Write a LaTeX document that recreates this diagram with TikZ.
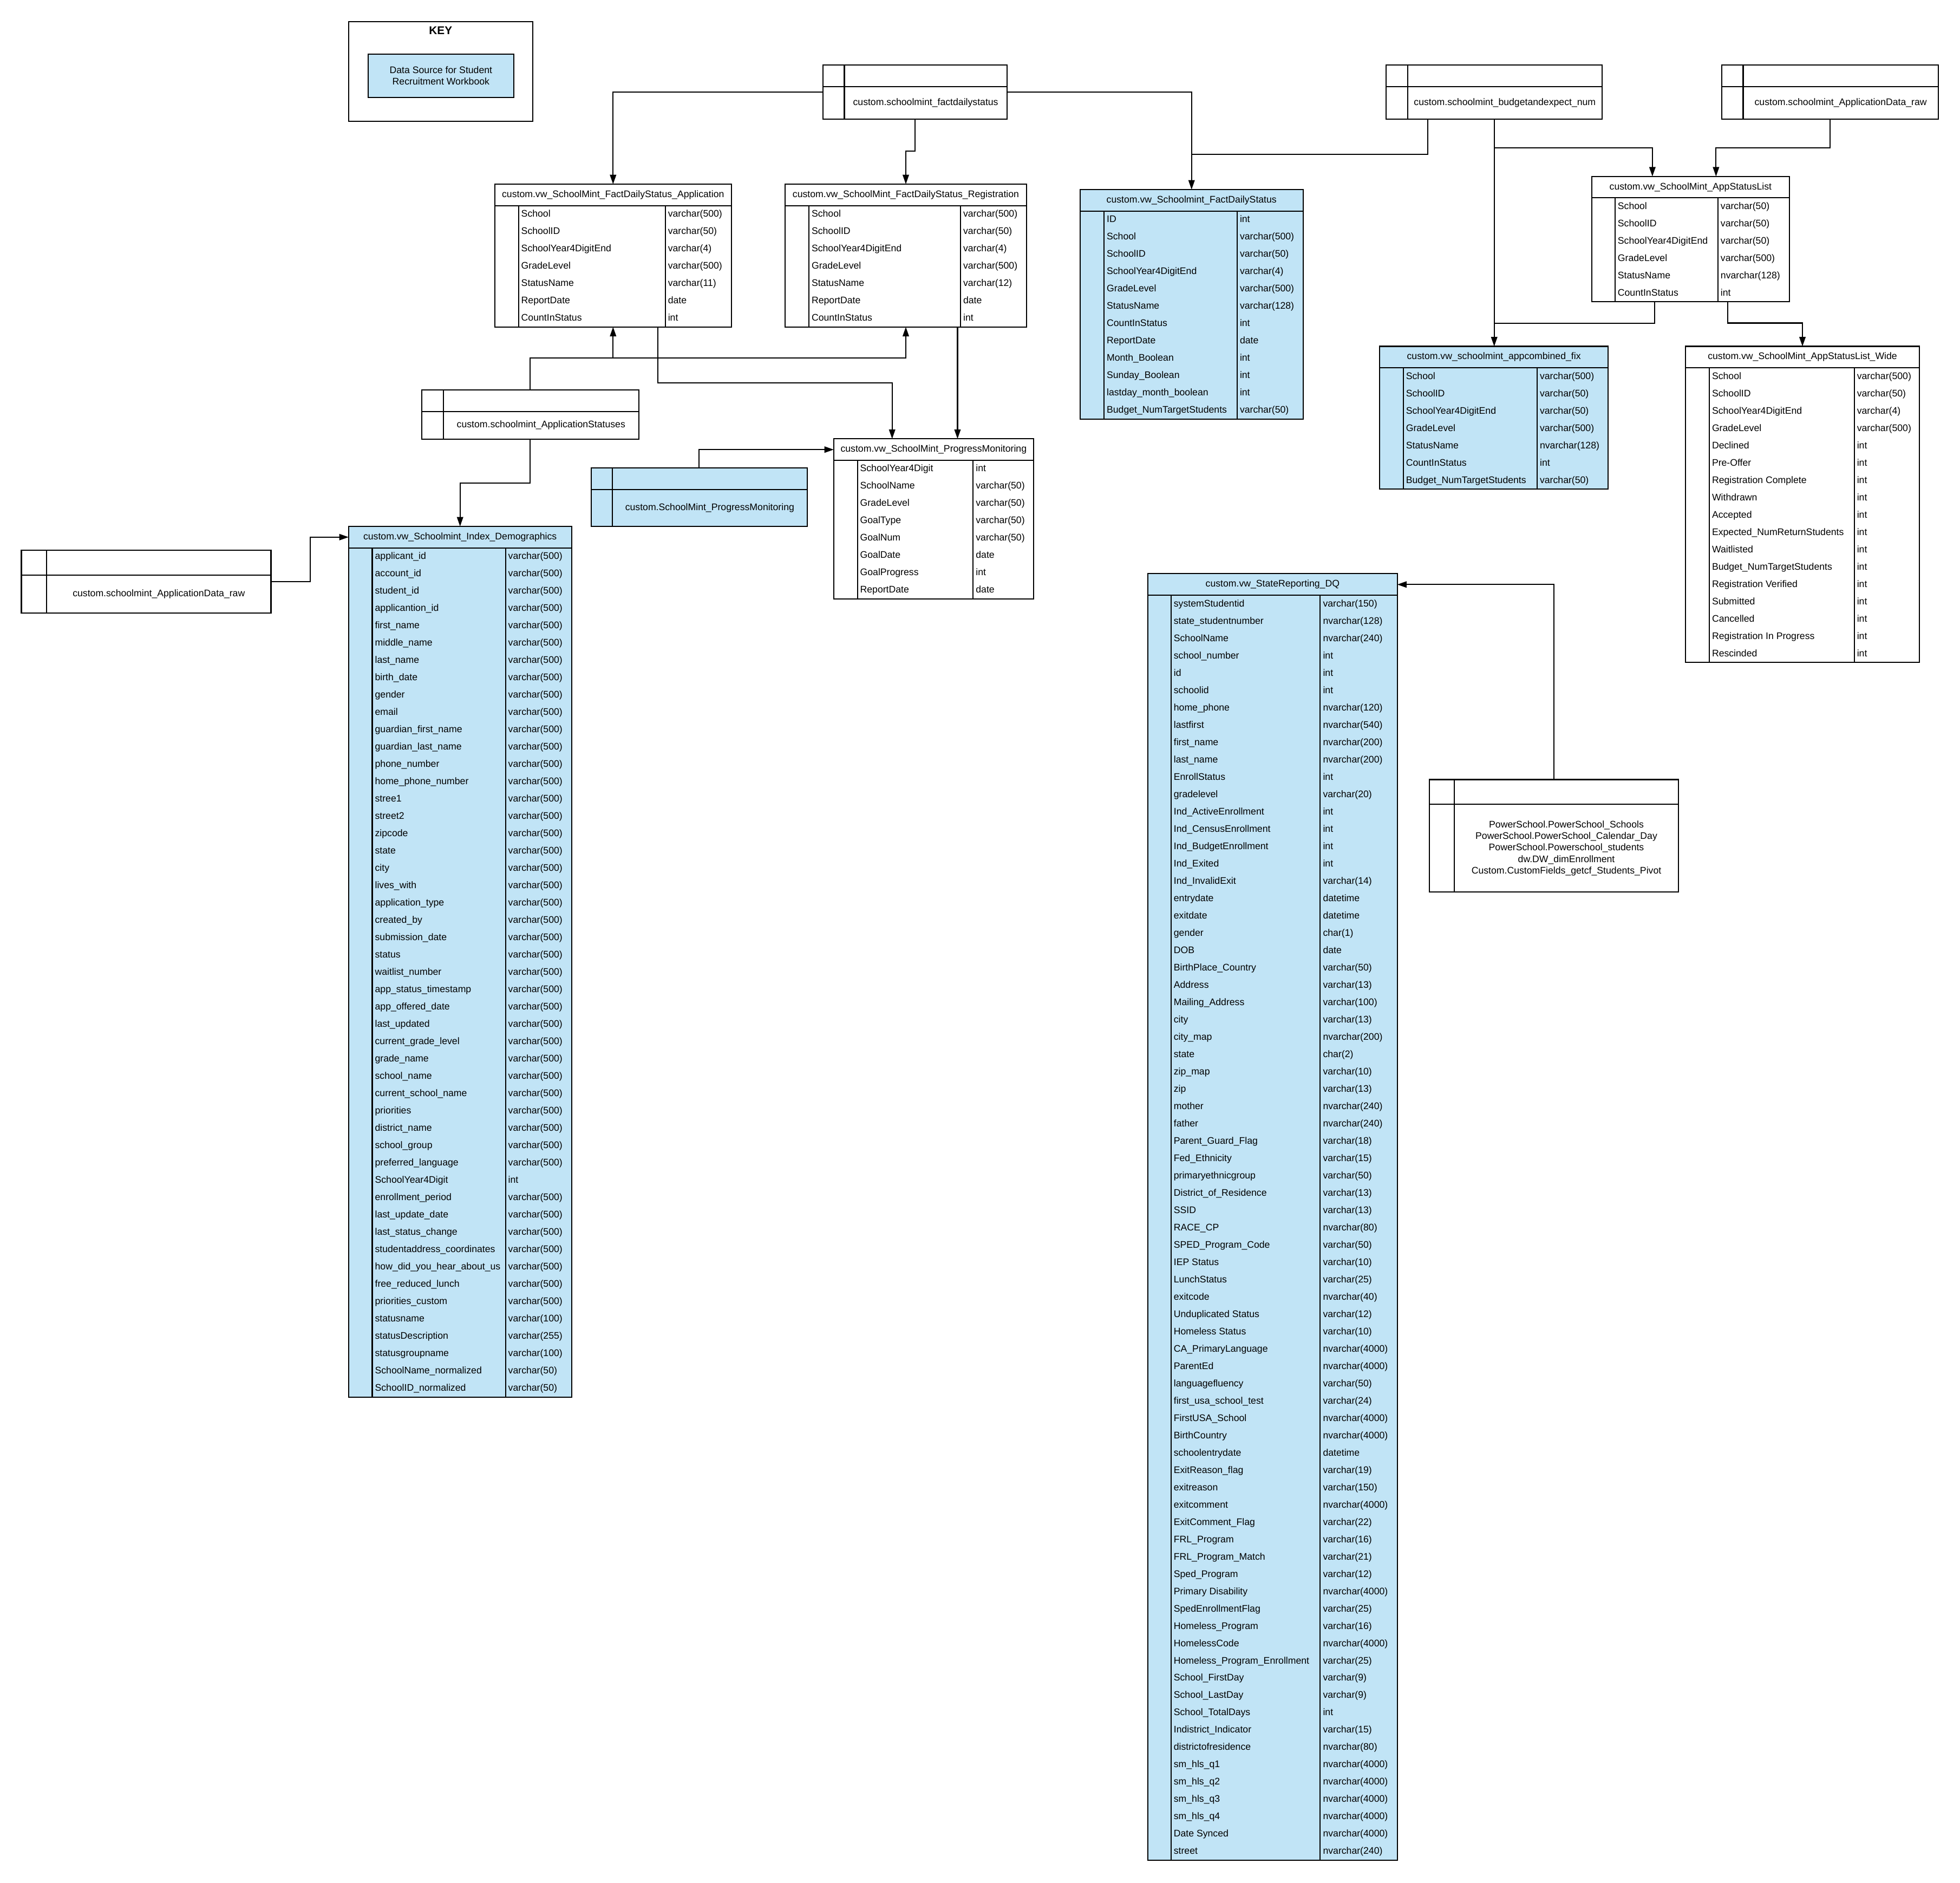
\documentclass[tikz,border=0pt]{standalone}
\usepackage{fontspec}
\setmainfont{Liberation Sans}
\usetikzlibrary{arrows.meta,calc}
\definecolor{tblue}{RGB}{193,228,246}
\newcount\rowcnt
\tikzset{
  frame/.style={draw=black, line width=0.9pt, inner sep=0pt, outer sep=0pt},
  tline/.style={line width=0.9pt},
  cell/.style={inner sep=0pt, font=\fontsize{7.65}{9.2}\selectfont, anchor=base west},
  ttl/.style={inner sep=0pt, font=\fontsize{7.65}{9.2}\selectfont, anchor=base},
  srctext/.style={inner sep=0pt, font=\fontsize{7.65}{9.2}\selectfont, anchor=center, align=center},
  conn/.style={line width=0.9pt, -{Triangle[length=7.5pt,width=5pt]}},
  link/.style={line width=0.9pt},
}
% #1 name, #2 x1, #3 y1, #4 x2, #5 key col, #6 type col, #7 fill, #8 title, #9 rows
\newcommand\dbtable[9]{%
  \global\rowcnt=0
  \foreach \rr in {#9}{\global\advance\rowcnt by 1}%
  \pgfmathsetmacro\tblh{17.2+13.86*\the\rowcnt}%
  \pgfmathsetmacro\tblw{#4-#2}%
  \node[frame, fill=#7, minimum width=\tblw pt, minimum height=\tblh pt, anchor=north west] (#1) at (#2,#3) {};
  \draw[tline] (#2,#3+17.2) -- (#4,#3+17.2);
  \draw[tline] (#5,#3+17.2) -- (#5,#3+\tblh);
  \draw[tline] (#6,#3+17.2) -- (#6,#3+\tblh);
  \node[ttl] (#1-title) at ({(#2+#4)/2},#3+10.6) {#8};
  \foreach \fn/\ft [count=\i] in {#9}{%
    \node[cell] (#1-n\i) at (#5+2,#3+17.2+13.86*\i-4.8) {\fn};
    \node[cell] (#1-t\i) at (#6+2,#3+17.2+13.86*\i-4.8) {\ft};
  }%
}
% #1 name, #2 x1, #3 y1, #4 x2, #5 y2, #6 divider y, #7 key col, #8 fill, #9 text
\newcommand\srcbox[9]{%
  \pgfmathsetmacro\sbw{#4-#2}%
  \pgfmathsetmacro\sbh{#5-#3}%
  \node[frame, fill=#8, minimum width=\sbw pt, minimum height=\sbh pt, anchor=north west] (#1) at (#2,#3) {};
  \draw[tline] (#2,#6) -- (#4,#6);
  \draw[tline] (#7,#3) -- (#7,#5);
  \node[srctext] (#1-label) at ({(#7+#4)/2},{(#6+#5)/2}) {#9};
}
\begin{document}
\catcode`\_=12
\begin{tikzpicture}[x=1pt,y=-1pt]
\fill[white] (0,0) rectangle (1568,1506);
\useasboundingbox (0,0) rectangle (1568,1506);

% KEY
\node[frame, minimum width=147.4pt, minimum height=79.7pt, anchor=north west] (key) at (278.8,17.2) {};
\node[inner sep=0pt, font=\bfseries\fontsize{9}{10}\selectfont] (keytitle) at (352.5,24.6) {KEY};
\node[frame, fill=tblue, minimum width=116.7pt, minimum height=34.6pt, align=center, font=\fontsize{7.65}{9.4}\selectfont] (keyitem) at (352.75,60.5) {Data Source for Student\\Recruitment Workbook};

% source boxes
\srcbox{fdsrc}{658.5}{52}{805.5}{95.3}{69.4}{675.5}{white}{custom.schoolmint_factdailystatus}
\srcbox{budget}{1109}{51.8}{1281.7}{95.2}{69.2}{1126}{white}{custom.schoolmint_budgetandexpect_num}
\srcbox{adrawR}{1377.2}{51.8}{1550.6}{95.2}{69.2}{1394.5}{white}{custom.schoolmint_ApplicationData_raw}
\srcbox{appst}{337.3}{311.7}{511.0}{351.2}{329.1}{354.7}{white}{custom.schoolmint_ApplicationStatuses}
\srcbox{pmsrc}{472.8}{374.3}{645.8}{420.9}{391.6}{489.8}{tblue}{custom.SchoolMint_ProgressMonitoring}
\srcbox{adrawL}{17.1}{440.0}{216.8}{490.2}{460.0}{37.3}{white}{custom.schoolmint_ApplicationData_raw}
\srcbox{ps}{1143.4}{623.5}{1342.9}{713.4}{643.4}{1163.3}{white}{PowerSchool.PowerSchool_Schools\\PowerSchool.PowerSchool_Calendar_Day\\PowerSchool.Powerschool_students\\dw.DW_dimEnrollment\\Custom.CustomFields_getcf_Students_Pivot}

% tables
\dbtable{app}{395.7}{147.3}{585.2}{414.8}{532.2}{white}{custom.vw_SchoolMint_FactDailyStatus_Application}{School/varchar(500), SchoolID/varchar(50), SchoolYear4DigitEnd/varchar(4), GradeLevel/varchar(500), StatusName/varchar(11), ReportDate/date, CountInStatus/int}
\dbtable{reg}{628.2}{147.3}{821.1}{647.1}{768.4}{white}{custom.vw_SchoolMint_FactDailyStatus_Registration}{School/varchar(500), SchoolID/varchar(50), SchoolYear4DigitEnd/varchar(4), GradeLevel/varchar(500), StatusName/varchar(12), ReportDate/date, CountInStatus/int}
\dbtable{fds}{864.1}{151.6}{1042.4}{883.2}{989.7}{tblue}{custom.vw_Schoolmint_FactDailyStatus}{ID/int, School/varchar(500), SchoolID/varchar(50), SchoolYear4DigitEnd/varchar(4), GradeLevel/varchar(500), StatusName/varchar(128), CountInStatus/int, ReportDate/date, Month_Boolean/int, Sunday_Boolean/int, lastday_month_boolean/int, Budget_NumTargetStudents/varchar(50)}
\dbtable{asl}{1273.5}{141.1}{1431.4}{1292.0}{1374.3}{white}{custom.vw_SchoolMint_AppStatusList}{School/varchar(50), SchoolID/varchar(50), SchoolYear4DigitEnd/varchar(50), GradeLevel/varchar(500), StatusName/nvarchar(128), CountInStatus/int}
\dbtable{acf}{1103.6}{277.0}{1286.6}{1122.6}{1229.7}{tblue}{custom.vw_schoolmint_appcombined_fix}{School/varchar(500), SchoolID/varchar(50), SchoolYear4DigitEnd/varchar(50), GradeLevel/varchar(500), StatusName/nvarchar(128), CountInStatus/int, Budget_NumTargetStudents/varchar(50)}
\dbtable{wide}{1348.3}{277.0}{1535.6}{1367.4}{1483.4}{white}{custom.vw_SchoolMint_AppStatusList_Wide}{School/varchar(500), SchoolID/varchar(50), SchoolYear4DigitEnd/varchar(4), GradeLevel/varchar(500), Declined/int, Pre-Offer/int, Registration Complete/int, Withdrawn/int, Accepted/int, Expected_NumReturnStudents/int, Waitlisted/int, Budget_NumTargetStudents/int, Registration Verified/int, Submitted/int, Cancelled/int, Registration In Progress/int, Rescinded/int}
\dbtable{pm}{667.0}{351.0}{826.8}{685.9}{778.5}{white}{custom.vw_SchoolMint_ProgressMonitoring}{SchoolYear4Digit/int, SchoolName/varchar(50), GradeLevel/varchar(50), GoalType/varchar(50), GoalNum/varchar(50), GoalDate/date, GoalProgress/int, ReportDate/date}
\dbtable{demo}{278.9}{421.0}{457.2}{297.8}{404.4}{tblue}{custom.vw_Schoolmint_Index_Demographics}{applicant_id/varchar(500), account_id/varchar(500), student_id/varchar(500), applicantion_id/varchar(500), first_name/varchar(500), middle_name/varchar(500), last_name/varchar(500), birth_date/varchar(500), gender/varchar(500), email/varchar(500), guardian_first_name/varchar(500), guardian_last_name/varchar(500), phone_number/varchar(500), home_phone_number/varchar(500), stree1/varchar(500), street2/varchar(500), zipcode/varchar(500), state/varchar(500), city/varchar(500), lives_with/varchar(500), application_type/varchar(500), created_by/varchar(500), submission_date/varchar(500), status/varchar(500), waitlist_number/varchar(500), app_status_timestamp/varchar(500), app_offered_date/varchar(500), last_updated/varchar(500), current_grade_level/varchar(500), grade_name/varchar(500), school_name/varchar(500), current_school_name/varchar(500), priorities/varchar(500), district_name/varchar(500), school_group/varchar(500), preferred_language/varchar(500), SchoolYear4Digit/int, enrollment_period/varchar(500), last_update_date/varchar(500), last_status_change/varchar(500), studentaddress_coordinates/varchar(500), how_did_you_hear_about_us/varchar(500), free_reduced_lunch/varchar(500), priorities_custom/varchar(500), statusname/varchar(100), statusDescription/varchar(255), statusgroupname/varchar(100), SchoolName_normalized/varchar(50), SchoolID_normalized/varchar(50)}
\dbtable{sr}{918.3}{458.9}{1117.8}{936.8}{1056.2}{tblue}{custom.vw_StateReporting_DQ}{systemStudentid/varchar(150), state_studentnumber/nvarchar(128), SchoolName/nvarchar(240), school_number/int, id/int, schoolid/int, home_phone/nvarchar(120), lastfirst/nvarchar(540), first_name/nvarchar(200), last_name/nvarchar(200), EnrollStatus/int, gradelevel/varchar(20), Ind_ActiveEnrollment/int, Ind_CensusEnrollment/int, Ind_BudgetEnrollment/int, Ind_Exited/int, Ind_InvalidExit/varchar(14), entrydate/datetime, exitdate/datetime, gender/char(1), DOB/date, BirthPlace_Country/varchar(50), Address/varchar(13), Mailing_Address/varchar(100), city/varchar(13), city_map/nvarchar(200), state/char(2), zip_map/varchar(10), zip/varchar(13), mother/nvarchar(240), father/nvarchar(240), Parent_Guard_Flag/varchar(18), Fed_Ethnicity/varchar(15), primaryethnicgroup/varchar(50), District_of_Residence/varchar(13), SSID/varchar(13), RACE_CP/nvarchar(80), SPED_Program_Code/varchar(50), IEP Status/varchar(10), LunchStatus/varchar(25), exitcode/nvarchar(40), Unduplicated Status/varchar(12), Homeless Status/varchar(10), CA_PrimaryLanguage/nvarchar(4000), ParentEd/nvarchar(4000), languagefluency/varchar(50), first_usa_school_test/varchar(24), FirstUSA_School/nvarchar(4000), BirthCountry/nvarchar(4000), schoolentrydate/datetime, ExitReason_flag/varchar(19), exitreason/varchar(150), exitcomment/nvarchar(4000), ExitComment_Flag/varchar(22), FRL_Program/varchar(16), FRL_Program_Match/varchar(21), Sped_Program/varchar(12), Primary Disability/nvarchar(4000), SpedEnrollmentFlag/varchar(25), Homeless_Program/varchar(16), HomelessCode/nvarchar(4000), Homeless_Program_Enrollment/varchar(25), School_FirstDay/varchar(9), School_LastDay/varchar(9), School_TotalDays/int, Indistrict_Indicator/varchar(15), districtofresidence/nvarchar(80), sm_hls_q1/nvarchar(4000), sm_hls_q2/nvarchar(4000), sm_hls_q3/nvarchar(4000), sm_hls_q4/nvarchar(4000), Date Synced/nvarchar(4000), street/nvarchar(240)}

% junction coordinates
\coordinate (jfds) at (953.25,123.4);
\coordinate (jb1) at (1195.35,118.2);
\coordinate (jb2) at (1195.35,258.5);
\coordinate (ja) at (490.45,286.5);

% connectors
\draw[conn] (fdsrc.west) -| (app.north);
\draw[conn] (fdsrc.east) -| (fds.north);
\draw[conn] (fdsrc.south) -- ++(0,25.7) -| (reg.north);
\draw[link] ([xshift=33.1pt]budget.south west) |- (jfds);
\draw[conn] (budget.south) -- (budget.south |- acf.north);
\draw[conn] (jb1) -| ([xshift=48.4pt]asl.north west);
\draw[conn] (adrawR.south) -- ++(0,23) -| ([xshift=99.3pt]asl.north west);
\draw[link] ([xshift=50.1pt]asl.south west) |- (jb2);
\draw[conn] ([xshift=108.7pt]asl.south west) -- ++(0,16.9) -| (wide.north);
\draw[conn] (appst.north) -- ++(0,-25.2) -| (reg.south);
\draw[conn] (ja) -- (app.south);
\draw[conn] ([xshift=130.7pt]app.south west) -- ++(0,44.7) -| ([xshift=46.7pt]pm.north west);
\draw[conn] ([xshift=137.8pt]reg.south west) -- ([xshift=99pt]pm.north west);
\draw[conn] (appst.south) -- ++(0,35.2) -| (demo.north);
\draw[conn] (pmsrc.north) |- ([yshift=-8.6pt]pm.north west);
\draw[conn] (adrawL.east) -- ++(31.3,0) |- ([yshift=-8.6pt]demo.north west);
\draw[conn] (ps.north) |- ([yshift=-8.6pt]sr.north east);
\end{tikzpicture}
\end{document}
